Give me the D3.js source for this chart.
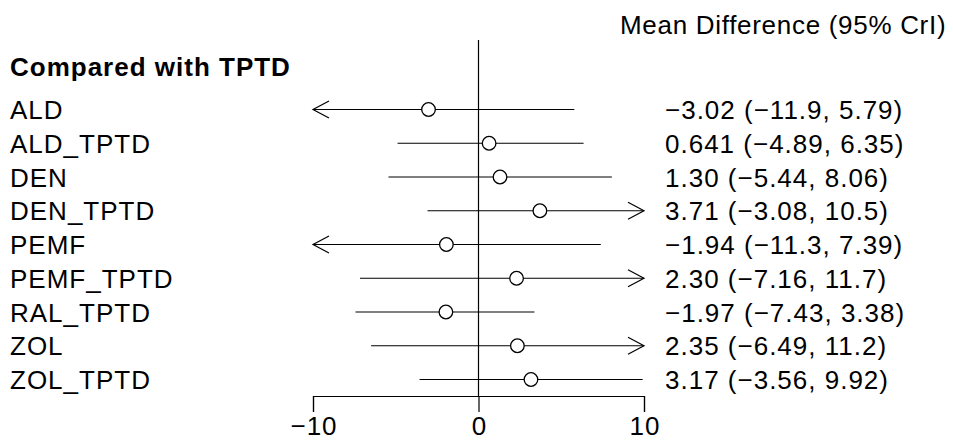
<!DOCTYPE html>
<html>
<head>
<meta charset="utf-8">
<script src="https://cdn.jsdelivr.net/npm/d3@7"></script>
<style>
  html, body { margin: 0; padding: 0; background: #fff; }
  svg { display: block; }
  text { font-family: "Liberation Sans", Arial, sans-serif; fill: #000; letter-spacing: 1px; }
</style>
</head>
<body>
<svg id="chart" width="953" height="443"></svg>
<script>
const categories = ["ALD", "ALD_TPTD", "DEN", "DEN_TPTD", "PEMF", "PEMF_TPTD", "RAL_TPTD", "ZOL", "ZOL_TPTD"];
const means = [-3.02, 0.641, 1.30, 3.71, -1.94, 2.30, -1.97, 2.35, 3.17];
const lowers = [-11.9, -4.89, -5.44, -3.08, -11.3, -7.16, -7.43, -6.49, -3.56];
const uppers = [5.79, 6.35, 8.06, 10.5, 7.39, 11.7, 3.38, 11.2, 9.92];
const labels = ["−3.02 (−11.9, 5.79)", "0.641 (−4.89, 6.35)", "1.30 (−5.44, 8.06)", "3.71 (−3.08, 10.5)",
  "−1.94 (−11.3, 7.39)", "2.30 (−7.16, 11.7)", "−1.97 (−7.43, 3.38)", "2.35 (−6.49, 11.2)", "3.17 (−3.56, 9.92)"];
const tickValues = [-10, 0, 10];
const groupTitle = "Compared with TPTD";
const columnTitle = "Mean Difference (95% CrI)";

const data = categories.map((c, i) => ({ cat: c, m: means[i], lo: lowers[i], hi: uppers[i], label: labels[i] }));

const svg = d3.select("#chart");
const fs = 26;
const x = d3.scaleLinear().domain([-10, 10]).range([313, 644]);
const y = d3.scalePoint().domain(categories).range([109.5, 379.5]);
const axisY = 396;

// zero line
svg.append("line")
  .attr("x1", x(0)).attr("x2", x(0))
  .attr("y1", 40).attr("y2", axisY)
  .attr("stroke", "#000").attr("stroke-width", 1.2);

// axis
const axis = d3.axisBottom(x).tickValues(tickValues).tickSize(16).tickPadding(5)
  .tickFormat(d3.format("d"));
const ag = svg.append("g").attr("transform", `translate(0,${axisY})`).call(axis);
ag.selectAll("path, line").attr("stroke", "#000").attr("stroke-width", 1.2);
ag.selectAll("text").attr("font-size", fs).attr("font-family", "Liberation Sans, Arial, sans-serif").attr("fill", "#000").attr("dx", 0.5);

const [dmin, dmax] = x.domain();
const rows = svg.append("g").selectAll("g").data(data).join("g");

// CI lines (clipped to domain)
rows.append("line")
  .attr("x1", d => x(Math.max(d.lo, dmin)))
  .attr("x2", d => x(Math.min(d.hi, dmax)))
  .attr("y1", d => y(d.cat)).attr("y2", d => y(d.cat))
  .attr("stroke", "#000").attr("stroke-width", 1.2);

// arrows for truncated intervals
const aL = 16, aH = 8.5;
rows.filter(d => d.lo < dmin).append("path")
  .attr("d", d => { const xx = x(dmin), yy = y(d.cat); return `M${xx + aL},${yy - aH}L${xx},${yy}L${xx + aL},${yy + aH}`; })
  .attr("fill", "none").attr("stroke", "#000").attr("stroke-width", 1.2);
rows.filter(d => d.hi > dmax).append("path")
  .attr("d", d => { const xx = x(dmax), yy = y(d.cat); return `M${xx - aL},${yy - aH}L${xx},${yy}L${xx - aL},${yy + aH}`; })
  .attr("fill", "none").attr("stroke", "#000").attr("stroke-width", 1.2);

// points
rows.append("circle")
  .attr("cx", d => x(d.m)).attr("cy", d => y(d.cat)).attr("r", 6.8)
  .attr("fill", "#fff").attr("stroke", "#000").attr("stroke-width", 1.3);

// row labels
rows.append("text")
  .attr("x", 10).attr("y", d => y(d.cat) + 9.5)
  .attr("font-size", fs).text(d => d.cat);

rows.append("text")
  .attr("x", 665).attr("y", d => y(d.cat) + 9.5)
  .attr("font-size", fs).text(d => d.label);

// titles
svg.append("text").attr("x", 10).attr("y", 76).attr("font-size", fs).attr("font-weight", "bold").text(groupTitle);
svg.append("text").attr("x", 620).attr("y", 34).attr("font-size", fs).style("letter-spacing", "0.7px").text(columnTitle);
</script>
</body>
</html>
